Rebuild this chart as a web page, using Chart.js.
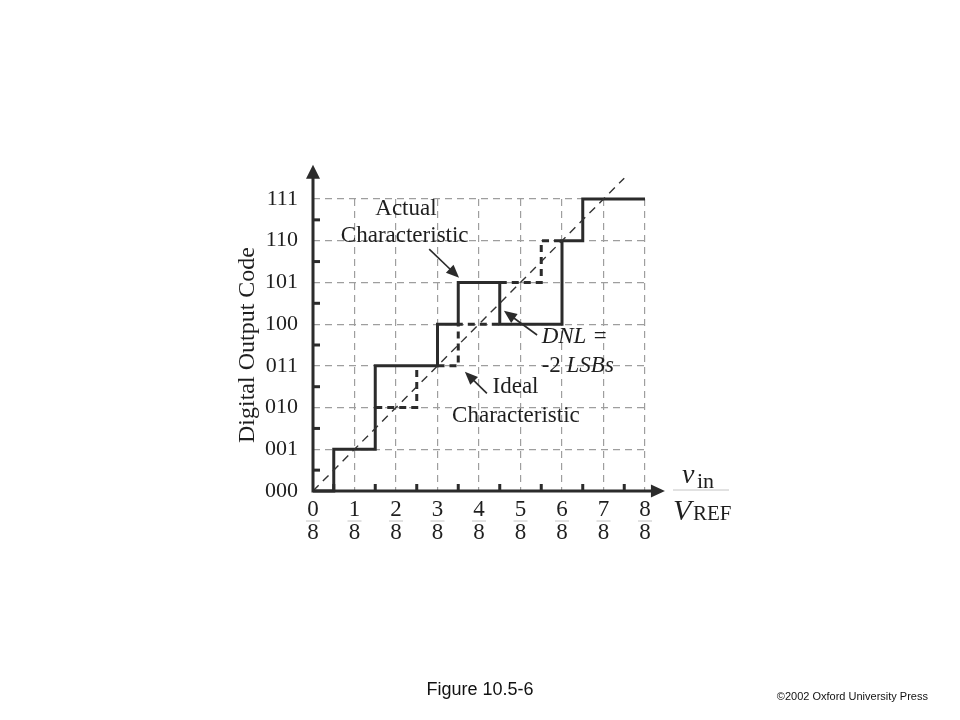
<!DOCTYPE html>
<html>
<head>
<meta charset="utf-8">
<script src="https://cdn.jsdelivr.net/npm/chart.js@4.4.0/dist/chart.umd.min.js"></script>
<style>
body { margin: 0; background: #fff; }
#wrap { position: relative; width: 960px; height: 720px; }
#fig { position: absolute; left: 0; top: 0; }
.cap { position: absolute; font-family: "Liberation Sans", Arial, sans-serif; color: #111; white-space: nowrap; }
</style>
</head>
<body>
<div id="wrap">
  <canvas id="fig" width="960" height="720"></canvas>
  <div class="cap" style="left:380px;width:200px;text-align:center;top:679px;font-size:18px;">Figure 10.5-6</div>
  <div class="cap" style="right:32px;top:690px;font-size:11px;">©2002 Oxford University Press</div>
</div>
<script>
'use strict'

// tick labels
var codeLabels = ['000', '001', '010', '011', '100', '101', '110', '111'];
var vinNumerators = ['0', '1', '2', '3', '4', '5', '6', '7', '8'];
var vinDenominator = '8';

// actual characteristic, each point = where a new code starts
var actualX = [0, 0.5, 1.5, 3, 3.5, 4.5, 6, 6.5, 8];
var actualY = [0, 1, 3, 4, 5, 4, 6, 7, 7];

// ideal steps, only the parts that differ (null = gap)
var idealX = [1.5, 2.5, 2.75, 3, 3.5, 4.5, 4.5, 4.5, 5.5, 6];
var idealY = [2, 3, null, 3, 4, 4, null, 5, 6, 6];

// ideal straight line
var lineX = [0, 7.5];
var lineY = [0, 7.5];

var ink = '#2b2b2b';
var serif = '"Liberation Serif", "Times New Roman", serif';

function pts(xs, ys) {
    return xs.map(function (x, i) { return { x: x, y: ys[i] }; });
}

function arrowHead(c, fx, fy, tx, ty, len, half) {
    var a = Math.atan2(ty - fy, tx - fx);
    c.beginPath();
    c.moveTo(tx, ty);
    c.lineTo(tx - len * Math.cos(a) + half * Math.sin(a), ty - len * Math.sin(a) - half * Math.cos(a));
    c.lineTo(tx - len * Math.cos(a) - half * Math.sin(a), ty - len * Math.sin(a) + half * Math.cos(a));
    c.closePath();
    c.fill();
}

// text notes and pointer arrows, in data units
var notes = [
    { t: 'Actual', x: 2.24, y: 6.62, align: 'center' },
    { t: 'Characteristic', x: 2.21, y: 5.98, align: 'center' },
    { t: 'DNL =', x: 5.51, y: 3.54, align: 'left', italic: true },
    { t: 'Ideal', x: 4.88, y: 2.34, align: 'center' },
    { t: 'Characteristic', x: 4.89, y: 1.66, align: 'center' }
];
var pointers = [
    [2.80, 5.80, 3.52, 5.11],
    [5.40, 3.74, 4.60, 4.32],
    [4.19, 2.34, 3.66, 2.86]
];

var decor = {
    id: 'decor',
    afterDatasetsDraw: function (chart) {
        var c = chart.ctx, xs = chart.scales.x, ys = chart.scales.y;
        var X = function (v) { return xs.getPixelForValue(v); };
        var Y = function (v) { return ys.getPixelForValue(v); };
        c.save();
        c.strokeStyle = ink;
        c.fillStyle = ink;

        // axes with arrows
        c.lineWidth = 3;
        c.lineJoin = 'miter';
        c.beginPath();
        c.moveTo(X(0), Y(7.6));
        c.lineTo(X(0), Y(0));
        c.lineTo(X(8.3), Y(0));
        c.stroke();
        arrowHead(c, X(0), Y(7), X(0), Y(7.82), 14, 7);
        arrowHead(c, X(8), Y(0), X(8.48), Y(0), 14, 6.5);

        // half step ticks
        var v;
        for (v = 0.5; v < 7; v++) {
            c.beginPath(); c.moveTo(X(0), Y(v)); c.lineTo(X(0) + 7, Y(v)); c.stroke();
        }
        for (v = 0.5; v < 8; v++) {
            c.beginPath(); c.moveTo(X(v), Y(0)); c.lineTo(X(v), Y(0) - 7); c.stroke();
        }

        // fraction bars under the x labels
        c.lineWidth = 1;
        c.strokeStyle = '#c4c4c4';
        for (v = 0; v <= 8; v++) {
            c.beginPath(); c.moveTo(X(v) - 7, Y(0) + 30); c.lineTo(X(v) + 7, Y(0) + 30); c.stroke();
        }
        c.beginPath(); c.moveTo(X(8) + 28, Y(0) - 1); c.lineTo(X(8) + 84, Y(0) - 1); c.stroke();

        // notes
        c.fillStyle = '#1e1e1e';
        c.textBaseline = 'alphabetic';
        notes.forEach(function (n) {
            c.font = (n.italic ? 'italic ' : '') + '23px ' + serif;
            c.textAlign = n.align;
            c.fillText(n.t, X(n.x), Y(n.y));
        });
        c.textAlign = 'left';
        c.font = '23px ' + serif;
        c.fillText('-2 ', X(5.51), Y(2.86));
        var w = c.measureText('-2 ').width;
        c.font = 'italic 23px ' + serif;
        c.fillText('LSBs', X(5.51) + w, Y(2.86));

        c.strokeStyle = ink;
        c.fillStyle = ink;
        c.lineWidth = 1.6;
        pointers.forEach(function (p) {
            var x1 = X(p[0]), y1 = Y(p[1]), x2 = X(p[2]), y2 = Y(p[3]);
            var a = Math.atan2(y2 - y1, x2 - x1);
            c.beginPath(); c.moveTo(x1, y1); c.lineTo(x2 - 8 * Math.cos(a), y2 - 8 * Math.sin(a)); c.stroke();
            arrowHead(c, x1, y1, x2, y2, 13, 5.5);
        });

        // v_in / V_REF
        c.fillStyle = '#1e1e1e';
        c.font = 'italic 28px ' + serif;
        c.fillText('v', X(8) + 37, Y(0) - 8);
        c.font = '22px ' + serif;
        c.fillText('in', X(8) + 52, Y(0) - 3);
        c.font = 'italic 30px ' + serif;
        c.fillText('V', X(8) + 28, Y(0) + 29);
        c.font = '21px ' + serif;
        c.fillText('REF', X(8) + 48, Y(0) + 29);
        c.restore();
    }
};

var gridOpts = { color: '#9e9e9e', lineWidth: 1.2, drawTicks: false };
var borderOpts = { display: false, dash: [7, 5] };

new Chart(document.getElementById('fig').getContext('2d'), {
    type: 'line',
    data: {
        datasets: [{
            label: 'Ideal line',
            data: pts(lineX, lineY),
            borderColor: '#333',
            borderWidth: 1.4,
            borderDash: [8, 6],
            pointRadius: 0,
            clip: false
        }, {
            label: 'Ideal characteristic',
            data: pts(idealX, idealY),
            borderColor: ink,
            borderWidth: 3,
            borderDash: [7, 5],
            stepped: true,
            spanGaps: false,
            pointRadius: 0,
            clip: false
        }, {
            label: 'Actual characteristic',
            data: pts(actualX, actualY),
            borderColor: ink,
            borderWidth: 3,
            borderJoinStyle: 'miter',
            stepped: true,
            pointRadius: 0,
            clip: false
        }]
    },
    options: {
        responsive: false,
        animation: false,
        devicePixelRatio: 1,
        layout: { padding: { left: 0, top: 199, right: 315, bottom: 0 } },
        plugins: { legend: { display: false }, tooltip: { enabled: false } },
        scales: {
            x: {
                type: 'linear',
                min: 0,
                max: 8,
                afterFit: function (s) { s.height = 229; },
                grid: gridOpts,
                border: borderOpts,
                ticks: {
                    stepSize: 1,
                    autoSkip: false,
                    maxRotation: 0,
                    padding: 7,
                    color: '#1e1e1e',
                    font: { family: serif, size: 23, lineHeight: 23 / 23 },
                    callback: function (v) { return [vinNumerators[v], vinDenominator]; }
                }
            },
            y: {
                type: 'linear',
                min: 0,
                max: 7,
                afterFit: function (s) { s.width = 313; },
                grid: gridOpts,
                border: borderOpts,
                ticks: {
                    stepSize: 1,
                    padding: 15,
                    color: '#1e1e1e',
                    font: { family: serif, size: 22 },
                    callback: function (v) { return codeLabels[v]; }
                }
                ,
                title: {
                    display: true,
                    text: 'Digital Output Code',
                    color: '#1e1e1e',
                    font: { family: serif, size: 24 },
                    padding: { top: 233, bottom: 0 }
                }
            }
        }
    },
    plugins: [decor]
});
</script>
</body>
</html>
